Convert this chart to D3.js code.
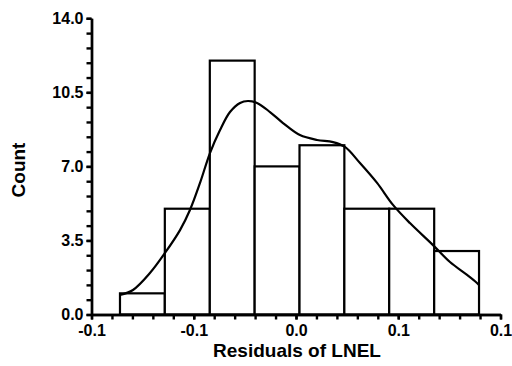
<!DOCTYPE html>
<html>
<head>
<meta charset="utf-8">
<script src="https://cdn.jsdelivr.net/npm/d3@7"></script>
<style>
  body { margin: 0; background: #fff; }
  svg { display: block; }
  .axis text { font-family: 'Liberation Sans', Arial, Helvetica, sans-serif; font-weight: bold; font-size: 16px; fill: #000; }
  .axis path, .axis line { stroke: #000; stroke-width: 2.4; }
</style>
</head>
<body>
<div id="chart"></div>
<script>
// histogram of residuals
const binEdges = [-0.1205, -0.0898, -0.0590, -0.0283, 0.0024, 0.0331, 0.0638, 0.0946, 0.1253];
const counts = [1, 5, 12, 7, 8, 5, 5, 3];

// smoothed density curve (in count units)
const curveX = [-0.1205, -0.1116, -0.1000, -0.0897, -0.0794, -0.0726, -0.0657, -0.0589, -0.0520,
  -0.0452, -0.0383, -0.0329, -0.0267, -0.0178, -0.0089, 0.0027, 0.0144, 0.0253, 0.0335,
  0.0438, 0.0555, 0.0664, 0.0780, 0.0938, 0.1054, 0.1171, 0.1239, 0.1253];
const curveY = [0.92, 1.16, 1.96, 2.91, 3.99, 4.94, 6.22, 7.63, 8.72,
  9.57, 10.0, 10.09, 10.0, 9.57, 9.05, 8.48, 8.25, 8.15, 7.92,
  7.16, 6.22, 5.18, 4.32, 3.28, 2.48, 1.87, 1.49, 1.39];

const xTicks = [-0.14, -0.07, 0, 0.07, 0.14];
const yTicks = [0, 3.5, 7, 10.5, 14];
const xLabel = 'Residuals of LNEL';
const yLabel = 'Count';

const width = 512, height = 366;

const x = d3.scaleLinear().domain([-0.14, 0.14]).range([91.5, 500.5]);
const y = d3.scaleLinear().domain([0, 14]).range([314.5, 18.3]);

const fmt = d3.formatLocale({decimal: '.', thousands: ',', grouping: [3], currency: ['', ''], minus: '-'}).format('.1f');

const svg = d3.select('#chart').append('svg')
  .attr('width', width)
  .attr('height', height);

// bars
const bins = counts.map((c, i) => ({x0: binEdges[i], x1: binEdges[i + 1], count: c}));
svg.selectAll('rect.bar')
  .data(bins)
  .enter().append('rect')
  .attr('class', 'bar')
  .attr('x', d => x(d.x0))
  .attr('y', d => y(d.count))
  .attr('width', d => x(d.x1) - x(d.x0))
  .attr('height', d => y(0) - y(d.count))
  .attr('fill', '#fff')
  .attr('stroke', '#000')
  .attr('stroke-width', 2.2);

// density curve
const line = d3.line()
  .x(d => x(d[0]))
  .y(d => y(d[1]))
  .curve(d3.curveCatmullRom.alpha(0.5));

svg.append('path')
  .attr('d', line(curveX.map((v, i) => [v, curveY[i]])))
  .attr('fill', 'none')
  .attr('stroke', '#000')
  .attr('stroke-width', 2.2);

// minor ticks
svg.append('g')
  .attr('class', 'axis')
  .attr('transform', 'translate(0,' + y(0) + ')')
  .call(d3.axisBottom(x).tickValues(d3.range(-0.14, 0.1401, 0.014)).tickSize(5).tickSizeOuter(0).tickFormat(''));

svg.append('g')
  .attr('class', 'axis')
  .attr('transform', 'translate(' + x(-0.14) + ',0)')
  .call(d3.axisLeft(y).tickValues(d3.range(0, 14.01, 0.7)).tickSize(5).tickSizeOuter(0).tickFormat(''));

// main axes
svg.append('g')
  .attr('class', 'axis')
  .attr('transform', 'translate(0,' + y(0) + ')')
  .call(d3.axisBottom(x).tickValues(xTicks).tickFormat(fmt).tickSize(5).tickSizeOuter(0).tickPadding(5));

svg.append('g')
  .attr('class', 'axis')
  .attr('transform', 'translate(' + x(-0.14) + ',0)')
  .call(d3.axisLeft(y).tickValues(yTicks).tickFormat(fmt).tickSize(5).tickSizeOuter(0).tickPadding(3));

// axis titles
svg.append('text')
  .attr('x', 297)
  .attr('y', 357)
  .attr('text-anchor', 'middle')
  .style('font-family', "'Liberation Sans', Arial, Helvetica, sans-serif")
  .style('font-weight', 'bold')
  .style('font-size', '19px')
  .text(xLabel);

svg.append('text')
  .attr('transform', 'translate(25,170) rotate(-90)')
  .attr('text-anchor', 'middle')
  .style('font-family', "'Liberation Sans', Arial, Helvetica, sans-serif")
  .style('font-weight', 'bold')
  .style('font-size', '19px')
  .text(yLabel);
</script>
</body>
</html>
